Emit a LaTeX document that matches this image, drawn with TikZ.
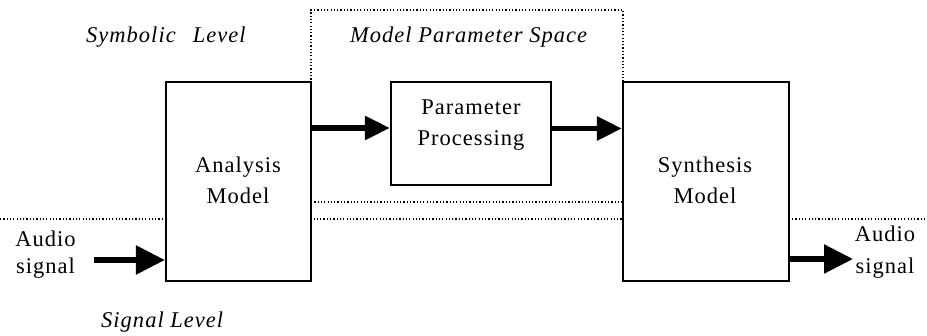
\documentclass[tikz,border=0pt]{standalone}
\usepackage{fontspec}
\setmainfont{Liberation Serif}[LetterSpace=4.5]
\usetikzlibrary{arrows.meta}

\begin{document}
\begin{tikzpicture}[x=1pt,y=-1pt,
  block/.style={draw, line width=2.2pt, fill=white, inner sep=0pt},
  dotline/.style={line width=1.2pt, dash pattern=on 1.2pt off 2.1pt},
  flow/.style={line width=5.5pt},
  bigtip/.style={-{Triangle[length=29pt,width=28pt]}},
  smalltip/.style={-{Triangle[length=25pt,width=23pt]}},
  lbl/.style={font=\fontsize{22.5}{31}\selectfont, align=center, inner sep=0pt, anchor=base},
  lvl/.style={font=\fontsize{22.5}{26}\selectfont\itshape, inner sep=0pt, anchor=base west}]

  % canvas
  \fill[white] (0,0) rectangle (927,336);
  \useasboundingbox (0,0) rectangle (927,336);

  % boundary between symbolic and signal level
  \coordinate (divL) at (0,219);
  \coordinate (divR) at (927,219);
  \draw[dotline] (divL) -- (divR);

  % model parameter space region
  \node[dotline, draw, minimum width=312pt, minimum height=192pt, inner sep=0pt]
    (space) at (467,106) {};

  % processing blocks
  \node[block, minimum width=145pt, minimum height=199pt] (analysis) at (238.5,181.5) {};
  \node[block, minimum width=166pt, minimum height=199pt] (synthesis) at (706,181.5) {};
  \node[block, minimum width=160pt, minimum height=103pt] (param) at (471,133.5) {};

  % block labels
  \node[lbl] (analysisT) at (238,204) {Analysis\\Model};
  \node[lbl] (synthesisT) at (705,204) {Synthesis\\Model};
  \node[lbl] (paramT) at (471,146) {Parameter\\Processing};

  % level labels
  \node[lvl] (symb) at (86,43) {Symbolic\hspace{17pt}Level};
  \node[lvl] (mps) at (350,43) {Model Parameter Space};
  \node[lvl] (sig) at (101,328) {Signal Level};

  % audio in / out
  \node[lbl, font=\fontsize{22.5}{27}\selectfont] (inT) at (45.5,274) {Audio\\signal};
  \node[lbl, font=\fontsize{22.5}{32}\selectfont] (outT) at (885,274) {Audio\\signal};
  \coordinate (ain) at (94,260);
  \coordinate (aout) at (853,259);
  \coordinate (m1) at ([yshift=5.5pt]param.west);
  \coordinate (m2) at ([yshift=5pt]param.east);

  % signal flow
  \draw[flow, bigtip] (ain) -- (analysis.west |- ain);
  \draw[flow, smalltip] (analysis.east |- m1) -- (m1);
  \draw[flow, smalltip] (m2) -- (synthesis.west |- m2);
  \draw[flow, bigtip] (synthesis.east |- aout) -- (aout);
\end{tikzpicture}
\end{document}
